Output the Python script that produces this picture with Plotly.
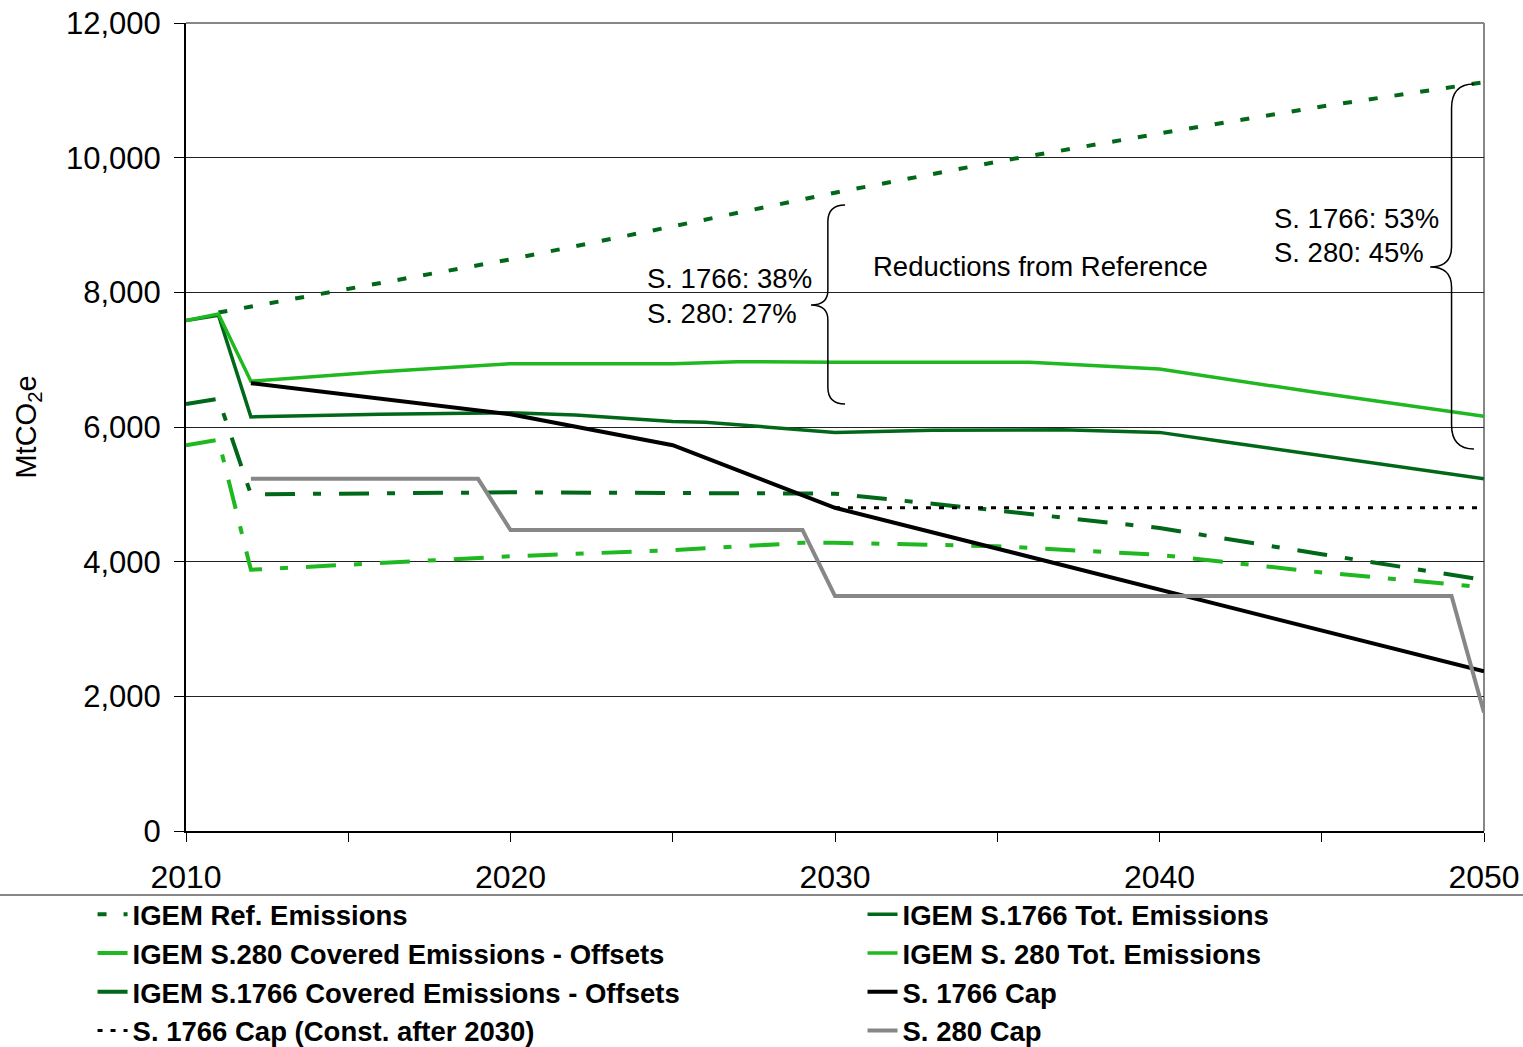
import plotly.graph_objects as go

# ---------------- data ----------------
ref_years = [2011, 2015, 2020, 2025, 2030, 2035, 2040, 2045, 2050]
ref_vals = [7700, 8050, 8490, 8980, 9480, 9940, 10360, 10760, 11120]

s280_cov_years = [2010, 2011, 2012, 2020, 2025, 2029, 2030, 2035, 2040, 2045, 2050]
s280_cov_vals = [5730, 5810, 3880, 4080, 4170, 4280, 4280, 4230, 4100, 3840, 3620]

s1766_cov_years = [2010, 2011, 2012, 2020, 2025, 2030, 2035, 2040, 2045, 2050]
s1766_cov_vals = [6340, 6420, 5000, 5030, 5020, 5010, 4760, 4500, 4110, 3730]

const_cap_years = [2030, 2050]
const_cap_vals = [4800, 4800]

s1766_tot_years = [2010, 2011, 2012, 2016, 2020, 2022, 2025, 2026, 2030, 2033, 2037, 2040, 2042, 2045, 2050]
s1766_tot_vals = [7580, 7660, 6150, 6190, 6210, 6180, 6080, 6070, 5920, 5950, 5960, 5920, 5780, 5570, 5230]

s280_tot_years = [2010, 2011, 2012, 2016, 2020, 2025, 2027, 2030, 2036, 2040, 2045, 2050]
s280_tot_vals = [7580, 7680, 6680, 6820, 6940, 6940, 6970, 6960, 6960, 6860, 6500, 6160]

s1766_cap_years = [2012, 2020, 2025, 2030, 2050]
s1766_cap_vals = [6650, 6190, 5730, 4800, 2370]

s280_cap_years = [2012, 2019, 2020, 2029, 2030, 2049, 2050]
s280_cap_vals = [5230, 5230, 4470, 4470, 3490, 3490, 1760]

y_ticks = [0, 2000, 4000, 6000, 8000, 10000, 12000]
x_ticks = [2010, 2020, 2030, 2040, 2050]

# ---------------- style ----------------
DARK = "#006818"
LIGHT = "#20B820"
GRAY = "#878787"
FONT = "Liberation Sans, Arial, sans-serif"
DASHDOT = "30px,18px,8px,18px"

fig = go.Figure()

def add(x, y, name, color, width, dash, legend, group):
    fig.add_trace(go.Scatter(
        x=x, y=y, name=name, mode="lines",
        line=dict(color=color, width=width, dash=dash),
        legend=legend, legendgroup=group, hoverinfo="x+y+name"))

add(ref_years, ref_vals, "IGEM Ref. Emissions", DARK, 4, "9px,17px", "legend", "a1")
add(s280_cov_years, s280_cov_vals, "IGEM S.280 Covered Emissions - Offsets", LIGHT, 4, DASHDOT, "legend", "a2")
add(s1766_cov_years, s1766_cov_vals, "IGEM S.1766 Covered Emissions - Offsets", DARK, 4, DASHDOT, "legend", "a3")
add(const_cap_years, const_cap_vals, "S. 1766 Cap (Const. after 2030)", "#000000", 3, "5px,8px", "legend", "a4")
add(s1766_tot_years, s1766_tot_vals, "IGEM S.1766 Tot. Emissions", DARK, 3.5, "solid", "legend2", "b1")
add(s280_tot_years, s280_tot_vals, "IGEM S. 280 Tot. Emissions", LIGHT, 3.5, "solid", "legend2", "b2")
add(s1766_cap_years, s1766_cap_vals, "S. 1766 Cap", "#000000", 4, "solid", "legend2", "b3")
add(s280_cap_years, s280_cap_vals, "S. 280 Cap", GRAY, 4, "solid", "legend2", "b4")

# ---------------- braces (annotation shapes) ----------------
def brace(xs, xe, xt, y_top, y_bot, y_mid, r_end, r_mid):
    return (f"M {xe},{y_top} Q {xs},{y_top} {xs},{y_top - r_end} "
            f"L {xs},{y_mid + r_mid} Q {xs},{y_mid} {xt},{y_mid} "
            f"Q {xs},{y_mid} {xs},{y_mid - r_mid} "
            f"L {xs},{y_bot + r_end} Q {xs},{y_bot} {xe},{y_bot}")

shapes = [
    dict(type="path", xref="x", yref="y",
         path=brace(2029.78, 2030.31, 2029.26, 9297, 6342, 7812, 250, 220),
         line=dict(color="black", width=1.5)),
    dict(type="path", xref="x", yref="y",
         path=brace(2049.0, 2049.69, 2048.34, 11095, 5673, 8377, 360, 300),
         line=dict(color="black", width=1.5)),
    # plot-area border (top and right), gray
    dict(type="line", xref="paper", yref="paper", x0=0, x1=1, y0=1, y1=1,
         line=dict(color=GRAY, width=2), layer="below"),
    dict(type="line", xref="paper", yref="paper", x0=1, x1=1, y0=0, y1=1,
         line=dict(color=GRAY, width=2), layer="below"),
    # separator line above the legend
    dict(type="line", xref="paper", yref="paper", x0=-0.1433, x1=1.03, y0=-0.0792, y1=-0.0792,
         line=dict(color=GRAY, width=2)),
]

ann_font = dict(family=FONT, size=27.5, color="black")
annotations = [
    dict(x=2024.14, y=8200, text="S. 1766: 38%", showarrow=False, xanchor="left", yanchor="middle", font=ann_font),
    dict(x=2024.14, y=7690, text="S. 280: 27%", showarrow=False, xanchor="left", yanchor="middle", font=ann_font),
    dict(x=2031.11, y=8377, text="Reductions from Reference", showarrow=False, xanchor="left", yanchor="middle", font=ann_font),
    dict(x=2043.47, y=9104, text="S. 1766: 53%", showarrow=False, xanchor="left", yanchor="middle", font=ann_font),
    dict(x=2043.47, y=8599, text="S. 280: 45%", showarrow=False, xanchor="left", yanchor="middle", font=ann_font),
]

leg_font = dict(family=FONT, size=27.5, color="black", weight="bold")

fig.update_layout(
    width=1523, height=1047,
    margin=dict(l=186, r=39, t=23, b=216, autoexpand=False),
    paper_bgcolor="white", plot_bgcolor="white",
    font=dict(family=FONT, color="black"),
    showlegend=True,
    legend=dict(x=-0.072, xref="paper", y=0.150, yref="container",
                xanchor="left", yanchor="top",
                orientation="v", font=leg_font, tracegroupgap=0,
                bgcolor="rgba(0,0,0,0)", traceorder="normal"),
    legend2=dict(x=0.5212, xref="paper", y=0.150, yref="container",
                 xanchor="left", yanchor="top",
                 orientation="v", font=leg_font, tracegroupgap=0,
                 bgcolor="rgba(0,0,0,0)", traceorder="normal"),
    shapes=shapes,
    annotations=annotations,
    xaxis=dict(range=[2010, 2050], tickvals=x_ticks, ticktext=[str(v) for v in x_ticks],
               showgrid=False, zeroline=False, automargin=False,
               showline=True, linecolor="black", linewidth=2,
               ticks="outside", ticklen=9, tickwidth=1, tickcolor="black",
               minor=dict(dtick=5, tick0=2010, ticks="outside", ticklen=9, tickwidth=1,
                          tickcolor="black", showgrid=False),
               tickfont=dict(family=FONT, size=32, color="black"),
               ticklabelstandoff=8, ticklabeloverflow="allow"),
    yaxis=dict(range=[0, 12000], tickvals=y_ticks,
               ticktext=[f"{v:,}" for v in y_ticks],
               showgrid=True, gridcolor="#222222", gridwidth=1,
               zeroline=False, automargin=False,
               showline=True, linecolor="black", linewidth=2,
               ticks="outside", ticklen=10, tickwidth=1, tickcolor="black",
               tickfont=dict(family=FONT, size=31, color="black"),
               ticklabelstandoff=7, ticklabeloverflow="allow",
               title=dict(text="MtCO<sub>2</sub>e", font=dict(family=FONT, size=29, color="black"),
                          standoff=21)),
)

# remove the browser's default 8px page margin so the figure fills the window exactly
fig.write_html("out.html",
               config={"displayModeBar": False},
               post_script="document.body.style.margin='0';document.body.style.overflow='hidden';")
